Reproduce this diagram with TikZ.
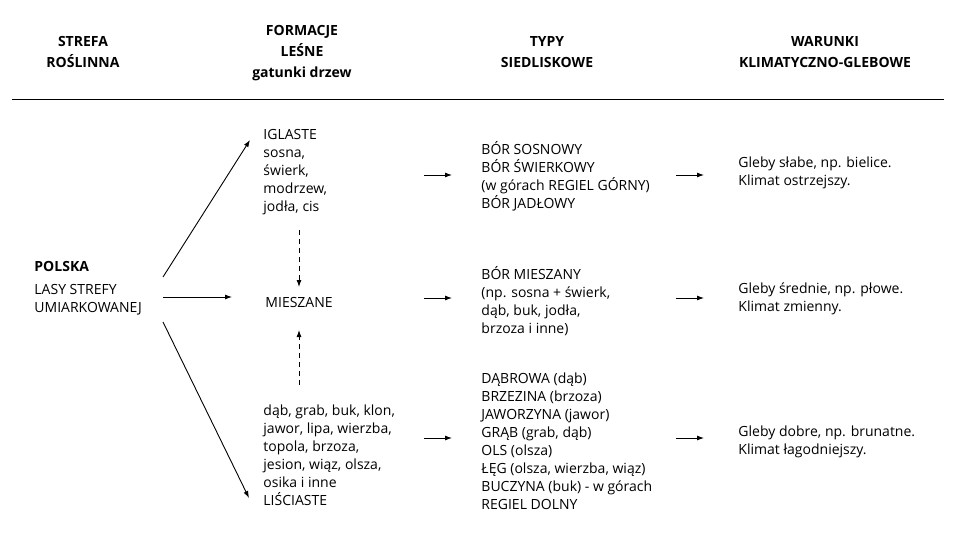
\documentclass[tikz,border=0pt]{standalone}
\usepackage{fontspec}
\setmainfont{Open Sans}
\usetikzlibrary{arrows,arrows.meta,positioning,calc}
\tikzset{>={Latex[length=7pt,width=5pt]}}
\begin{document}
\begin{tikzpicture}[x=1pt, y=-1pt, font=\fontsize{14}{18}\selectfont, line width=0.9pt,
  txt/.style={anchor=north west, inner sep=0pt, align=left},
  head/.style={font=\fontsize{14}{21}\selectfont\bfseries, align=center, inner sep=0pt}]
		\useasboundingbox (0,0) rectangle (960,540);
		
		\node[head] (hstrefa) at (83,52) {STREFA\\ROŚLINNA};
		\node[head] (hform) at (302,53) {FORMACJE\\LEŚNE\\gatunki drzew};
		\node[head] (htypy) at (547,52) {TYPY\\SIEDLISKOWE};
		\node[head] (hwar) at (825,52) {WARUNKI\\KLIMATYCZNO-GLEBOWE};
		\coordinate (la) at (12,99);
		\coordinate (lb) at (944,99);
		\draw (la) -- (lb);
		
		\node[txt] (polska) at (34,261) {\bfseries POLSKA};
		\node[txt] (lasy) at (34,284) {LASY STREFY\\UMIARKOWANEJ};
		
		\node[txt] (iglaste) at (263,129) {IGLASTE\\sosna,\\świerk,\\modrzew,\\jodła, cis};
		\node[txt] (mieszane) at (265,297) {MIESZANE};
		\node[txt] (lisciaste) at (263,404) {dąb, grab, buk, klon,\\jawor, lipa, wierzba,\\topola, brzoza,\\jesion, wiąz, olsza,\\osika i inne\\LIŚCIASTE};
		
		\node[txt] (bor) at (481,141) {BÓR SOSNOWY\\BÓR ŚWIERKOWY\\(w górach REGIEL GÓRNY)\\BÓR JADŁOWY};
		\node[txt] (bormiesz) at (481,266) {BÓR MIESZANY\\(np. sosna + świerk,\\dąb, buk, jodła,\\brzoza i inne)};
		\node[txt] (dabrowa) at (481,372) {DĄBROWA (dąb)\\BRZEZINA (brzoza)\\JAWORZYNA (jawor)\\GRĄB (grab, dąb)\\OLS (olsza)\\ŁĘG (olsza, wierzba, wiąz)\\BUCZYNA (buk) - w górach\\REGIEL DOLNY};
		
		\node[txt] (slabe) at (738,156) {Gleby słabe, np. bielice.\\Klimat ostrzejszy.};
		\node[txt] (srednie) at (738,282) {Gleby średnie, np. płowe.\\Klimat zmienny.};
		\node[txt] (dobre) at (738,425) {Gleby dobre, np. brunatne.\\Klimat łagodniejszy.};
		
		% connector ends
		\coordinate (pa) at (163,277);
		\coordinate (pb) at (163,297);
		\coordinate (pc) at (163,322);
		\coordinate (ia) at (250,140);
		\coordinate (ma) at (232,297);
		\coordinate (lc) at (249,498);
		\coordinate (ds) at (299,230);
		\coordinate (de) at (299,287);
		\coordinate (us) at (299,385);
		\coordinate (ue) at (299,330);
		\draw[->] (pa) -- (ia);
		\draw[->] (pb) -- (ma);
		\draw[->] (pc) -- (lc);
		
		\draw[->,dash pattern=on 5pt off 4pt] (ds) -- (de);
		\draw[->,dash pattern=on 5pt off 4pt] (us) -- (ue);
		
		\foreach \y in {175,298,438} {
			\draw[->] (424,\y) -- (452,\y);
			\draw[->] (676,\y) -- (704,\y);
		}
	\end{tikzpicture}
\end{document}
